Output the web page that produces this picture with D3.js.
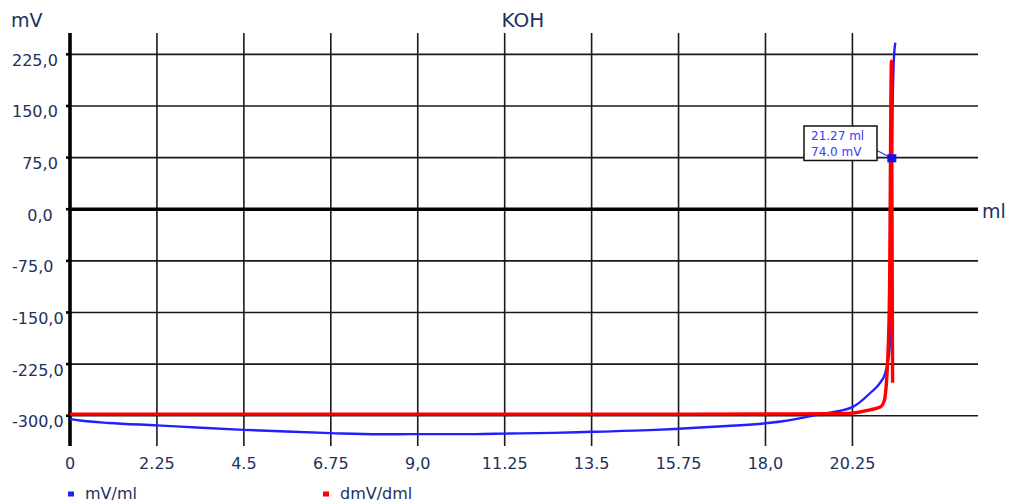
<!DOCTYPE html>
<html>
<head>
<meta charset="utf-8">
<script src="https://cdn.jsdelivr.net/npm/d3@7"></script>
<style>
  body { margin: 0; background: #fff; }
  svg text { font-family: "DejaVu Sans", Verdana, sans-serif; fill: #22305c; }
  .grid { stroke: #1a1a1a; stroke-width: 1.6; }
</style>
</head>
<body>
<div id="chart"></div>
<script>
const ancho = 1011;
const alto = 504;

// volumen (ml) y potencial (mV)
const volMV = [0, 0.26, 1.0, 2.25, 3.4, 4.5, 5.6, 6.75, 8.0, 9.0, 10.5, 11.25, 12.5, 13.5, 15.0, 15.75, 17.0, 18.0, 18.4, 19.4, 20.25, 20.71, 20.97, 21.1, 21.16, 21.21, 21.23, 21.25, 21.27, 21.29, 21.32, 21.36];
const mV = [-305, -307, -310.5, -314, -317.5, -320.5, -323, -325.3, -327, -326.7, -326.7, -326, -325, -323.4, -321, -319, -315, -311, -308.5, -298, -287.5, -267, -252, -238, -223, -204, -175, -60, 74, 150, 215, 242];

const volD = [0, 4.5, 9.0, 13.5, 18.0, 19.5, 20.25, 20.71, 20.97, 21.08, 21.13, 21.16, 21.21, 21.26, 21.29];
const dmV = [-297.7, -297.7, -297.7, -297.7, -297.5, -297, -296.2, -291.4, -287.5, -277, -252, -223, -120, 215, -252];

const xTicks = [0, 2.25, 4.5, 6.75, 9.0, 11.25, 13.5, 15.75, 18.0, 20.25];
const xLabels = ["0", "2.25", "4.5", "6.75", "9,0", "11.25", "13.5", "15.75", "18,0", "20.25"];
const yTicks = [225, 150, 75, 0, -75, -150, -225, -300];
const yLabels = ["225,0", "150,0", "75,0", "0,0", "-75,0", "-150,0", "-225,0", "-300,0"];

const punto = { ml: 21.27, mv: 74.0 };

const svg = d3.select("#chart").append("svg")
  .attr("width", ancho)
  .attr("height", alto);

const x = d3.scaleLinear().domain([0, 23.5]).range([70, 978]);
const y = d3.scaleLinear().domain([-344, 256]).range([446, 33]);
const [x0, x1] = x.range();
const [y0, y1] = y.range();

// rejilla horizontal
svg.selectAll(".hgrid")
  .data(yTicks.filter(d => d !== 0))
  .enter().append("line")
  .attr("class", "grid")
  .attr("x1", x0).attr("x2", x1)
  .attr("y1", d => y(d)).attr("y2", d => y(d));

// rejilla vertical
svg.selectAll(".vgrid")
  .data(xTicks.filter(d => d !== 0))
  .enter().append("line")
  .attr("class", "grid")
  .attr("x1", d => x(d)).attr("x2", d => x(d))
  .attr("y1", y1).attr("y2", y0);

// ejes
svg.append("line")
  .attr("x1", x0).attr("x2", x1)
  .attr("y1", y(0)).attr("y2", y(0))
  .attr("stroke", "#000").attr("stroke-width", 3.4);
svg.append("line")
  .attr("x1", x(0)).attr("x2", x(0))
  .attr("y1", y1).attr("y2", y0)
  .attr("stroke", "#000").attr("stroke-width", 3.6);

svg.selectAll(".ytick")
  .data(yTicks)
  .enter().append("line")
  .attr("x1", x(0) - 4).attr("x2", x(0))
  .attr("y1", d => y(d)).attr("y2", d => y(d))
  .attr("stroke", "#000").attr("stroke-width", 2.6);

svg.selectAll(".ylab")
  .data(yTicks)
  .enter().append("text")
  .attr("font-size", 16)
  .attr("x", (d, i) => yLabels[i].length >= 5 ? 12 : 40)
  .attr("text-anchor", (d, i) => yLabels[i].length >= 5 ? "start" : "middle")
  .attr("y", d => y(d) + 11.5)
  .text((d, i) => yLabels[i]);

svg.selectAll(".xlab")
  .data(xTicks)
  .enter().append("text")
  .attr("font-size", 16)
  .attr("text-anchor", "middle")
  .attr("x", d => x(d))
  .attr("y", 469)
  .text((d, i) => xLabels[i]);

svg.append("text").attr("x", 523).attr("y", 27).attr("font-size", 20)
  .attr("text-anchor", "middle").text("KOH");
svg.append("text").attr("x", 11).attr("y", 26.5).attr("font-size", 19).text("mV");
svg.append("text").attr("x", 982).attr("y", 218).attr("font-size", 19).text("ml");

// curvas
const linea = d3.line()
  .x(d => x(d[0]))
  .y(d => y(d[1]))
  .curve(d3.curveMonotoneX);

svg.append("path")
  .datum(volMV.map((v, i) => [v, mV[i]]))
  .attr("d", linea)
  .attr("fill", "none")
  .attr("stroke", "#1f1fff")
  .attr("stroke-width", 2.4);

svg.append("path")
  .datum(volD.map((v, i) => [v, dmV[i]]))
  .attr("d", linea)
  .attr("fill", "none")
  .attr("stroke", "#ff0000")
  .attr("stroke-width", 3.4)
  .attr("stroke-linejoin", "round");

// etiqueta del punto
const px = x(punto.ml), py = y(punto.mv);
svg.append("line")
  .attr("x1", 877).attr("y1", 150.5)
  .attr("x2", px).attr("y2", py)
  .attr("stroke", "#3030ff").attr("stroke-width", 1.3);
svg.append("rect")
  .attr("x", 804).attr("y", 126).attr("width", 73).attr("height", 34.5)
  .attr("fill", "#fff").attr("stroke", "#111").attr("stroke-width", 1.5);
svg.append("text").attr("x", 811).attr("y", 140).attr("font-size", 12)
  .style("fill", "#3a3aff").text(`${punto.ml} ml`);
svg.append("text").attr("x", 811).attr("y", 156).attr("font-size", 12)
  .style("fill", "#3a3aff").text(`${punto.mv.toFixed(1)} mV`);
svg.append("rect")
  .attr("x", px - 4.5).attr("y", py - 4).attr("width", 9).attr("height", 8)
  .attr("fill", "#1010ee");

// leyenda
const leyenda = [
  { nombre: "mV/ml", color: "#1f1fff", x: 68 },
  { nombre: "dmV/dml", color: "#ff0000", x: 323 }
];
const ley = svg.selectAll(".ley").data(leyenda).enter().append("g");
ley.append("rect")
  .attr("x", d => d.x).attr("y", 491.5)
  .attr("width", 6).attr("height", 5)
  .attr("fill", d => d.color);
ley.append("text")
  .attr("x", d => d.x + 17).attr("y", 499)
  .attr("font-size", 16)
  .text(d => d.nombre);
</script>
</body>
</html>
